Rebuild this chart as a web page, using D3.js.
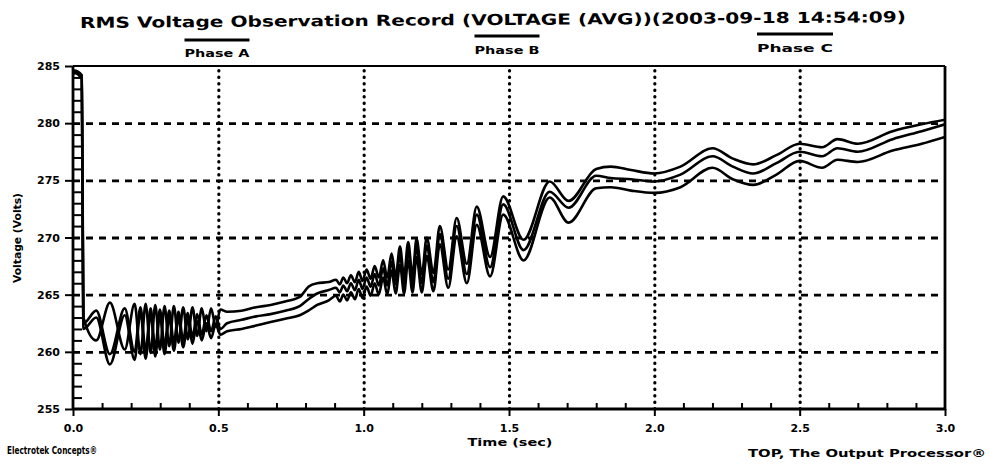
<!DOCTYPE html>
<html><head><meta charset="utf-8">
<script src="https://cdn.jsdelivr.net/npm/d3@7"></script>
<style>
html,body{margin:0;padding:0;background:#fff;}
svg{display:block;}
text{font-family:"DejaVu Sans",sans-serif;font-weight:bold;fill:#000;}
</style></head><body>
<svg id="chart" width="990" height="465"></svg>
<script>
// ---------------- DATA ----------------
const titleText = "RMS Voltage Observation Record (VOLTAGE (AVG))(2003-09-18 14:54:09)";
const seriesNames = ["Phase A", "Phase B", "Phase C"];
const xTickValues = [0, 0.5, 1, 1.5, 2, 2.5, 3];
const xTickLabels = ["0.0", "0.5", "1.0", "1.5", "2.0", "2.5", "3.0"];
const yTickValues = [255, 260, 265, 270, 275, 280, 285];
const xAxisTitle = "Time (sec)";
const yAxisTitle = "Voltage (Volts)";
const footerLeft = "Electrotek Concepts®";
const footerRight = "TOP, The Output Processor®";

// time (s)
const time = [
  0, 0.004, 0.030,
  0.036, 0.080, 0.127, 0.178, 0.212, 0.232, 0.250, 0.267, 0.283, 0.299, 0.315, 0.331, 0.347, 0.363, 0.379, 0.395, 0.411, 0.427, 0.443, 0.459, 0.475, 0.491, 0.507,
  0.530, 0.580, 0.630, 0.680, 0.730, 0.780, 0.810, 0.840,
  0.880, 0.905, 0.918, 0.930, 0.943, 0.956, 0.970, 0.983, 0.996, 1.010, 1.024, 1.038, 1.052, 1.067, 1.081, 1.096, 1.110, 1.125, 1.139, 1.153, 1.168, 1.182, 1.200, 1.217, 1.240, 1.262, 1.291, 1.320, 1.355, 1.389, 1.435, 1.480, 1.550, 1.640, 1.705,
  1.800, 1.850, 1.920, 2.000, 2.090, 2.200, 2.270, 2.340, 2.420, 2.500, 2.577, 2.630, 2.700, 2.820, 2.920, 3.000
];
// RMS voltage (V)
const phaseA = [
  284.4, 284.6, 284.2,
  263.0, 261.0, 264.3, 260.2, 264.2, 259.8, 264.2, 259.9, 264.1, 260.2, 264.0, 260.5, 264.0, 260.8, 263.9, 261.1, 263.9, 261.4, 263.8, 261.8, 263.8, 262.2, 263.7,
  263.5, 263.6, 263.9, 264.1, 264.4, 264.8, 265.7, 266.0,
  266.1, 266.3, 265.9, 266.5, 266.0, 266.7, 266.1, 267.0, 266.2, 267.2, 266.4, 267.5, 266.5, 268.0, 266.5, 268.6, 266.6, 269.2, 266.6, 269.6, 266.7, 269.9, 266.8, 270.0, 266.9, 271.0, 267.2, 271.7, 267.7, 272.7, 268.3, 273.6, 269.8, 274.9, 273.2,
  276.0, 276.2, 275.9, 275.6, 276.2, 277.8, 276.9, 276.4, 277.2, 278.2, 277.9, 278.6, 278.2, 279.3, 279.9, 280.3
];
const phaseB = [
  284.3, 284.5, 284.0,
  262.5, 263.6, 259.8, 263.8, 260.0, 263.9, 260.1, 263.8, 260.3, 263.7, 260.5, 263.6, 260.8, 263.5, 261.0, 263.4, 261.3, 263.3, 261.5, 263.2, 261.8, 263.1, 262.0,
  262.5, 262.8, 263.1, 263.3, 263.6, 264.0, 264.6, 265.1,
  265.4, 265.6, 265.2, 265.8, 265.3, 266.0, 265.4, 266.3, 265.5, 266.5, 265.7, 266.8, 265.8, 267.3, 265.8, 267.9, 265.9, 268.5, 265.9, 268.9, 266.0, 269.2, 266.0, 269.3, 266.1, 270.3, 266.4, 271.0, 266.8, 272.0, 267.4, 272.9, 268.9, 274.0, 272.6,
  275.4, 275.2, 275.1, 274.9, 275.5, 277.1, 276.2, 275.6, 276.5, 277.5, 277.1, 277.8, 277.5, 278.6, 279.3, 279.9
];
const phaseC = [
  284.2, 284.4, 283.9,
  262.0, 263.0, 258.9, 263.2, 259.3, 263.5, 259.4, 263.4, 259.6, 263.3, 259.8, 263.1, 260.1, 263.0, 260.4, 262.8, 260.7, 262.7, 261.0, 262.5, 261.2, 262.4, 261.5,
  261.8, 262.0, 262.3, 262.6, 262.9, 263.2, 263.6, 264.1,
  264.5, 264.9, 264.4, 265.0, 264.5, 265.2, 264.6, 265.5, 264.7, 265.7, 264.9, 266.0, 265.0, 266.5, 265.0, 267.1, 265.1, 267.6, 265.1, 268.0, 265.2, 268.3, 265.2, 268.4, 265.3, 269.4, 265.6, 270.1, 266.0, 271.1, 266.6, 272.0, 268.0, 273.5, 271.3,
  274.3, 274.4, 274.1, 273.9, 274.4, 276.1, 275.1, 274.6, 275.5, 276.7, 276.1, 276.8, 276.6, 277.6, 278.2, 278.8
];
const seriesValues = [phaseA, phaseB, phaseC];

// ---------------- LAYOUT ----------------
const plot = {left: 73, right: 945, top: 66, bottom: 409};
const legendLayout = [
  {cx: 217, lineY: 40, textY: 57, w: 65},
  {cx: 507, lineY: 36, textY: 54, w: 65},
  {cx: 795, lineY: 34, textY: 52, w: 76}
];

const svg = d3.select("#chart");
const x = d3.scaleLinear().domain([0, 3]).range([plot.left, plot.right]);
const y = d3.scaleLinear().domain([255, 285]).range([plot.bottom, plot.top]);

// Title
svg.append("text")
  .attr("x", 493).attr("y", 25)
  .attr("text-anchor", "middle")
  .attr("font-size", 15)
  .attr("textLength", 826).attr("lengthAdjust", "spacingAndGlyphs")
  .attr("transform", "rotate(-0.4,493,25)")
  .text(titleText);

// Legend
seriesNames.forEach((name, i) => {
  const L = legendLayout[i];
  svg.append("line")
    .attr("x1", L.cx - L.w / 2).attr("x2", L.cx + L.w / 2)
    .attr("y1", L.lineY).attr("y2", L.lineY)
    .attr("stroke", "#000").attr("stroke-width", 3);
  svg.append("text")
    .attr("x", L.cx).attr("y", L.textY)
    .attr("text-anchor", "middle").attr("font-size", 10)
    .attr("textLength", L.w).attr("lengthAdjust", "spacingAndGlyphs")
    .text(name);
});

// Horizontal dashed grid
const gH = svg.append("g").attr("transform", `translate(${plot.left},0)`)
  .call(d3.axisLeft(y).tickValues(yTickValues.slice(1, -1)).tickSize(-(plot.right - plot.left)).tickFormat(""));
gH.select(".domain").remove();
gH.selectAll(".tick line").attr("stroke", "#000").attr("stroke-width", 2.8).attr("stroke-dasharray", "7,6");

// Vertical dotted grid
const gV = svg.append("g").attr("transform", `translate(0,${plot.bottom})`)
  .call(d3.axisBottom(x).tickValues(xTickValues.slice(1, -1)).tickSize(-(plot.bottom - plot.top)).tickFormat(""));
gV.select(".domain").remove();
gV.selectAll(".tick line").attr("stroke", "#000").attr("stroke-width", 3.2)
  .attr("stroke-linecap", "round").attr("stroke-dasharray", "0.5,6");

// Minor ticks
const yMinor = d3.range(256, 285).filter(v => v % 5 !== 0);
const gYm = svg.append("g").attr("transform", `translate(${plot.left},0)`)
  .call(d3.axisRight(y).tickValues(yMinor).tickSize(9).tickFormat(""));
gYm.select(".domain").remove();
gYm.selectAll(".tick line").attr("stroke", "#000").attr("stroke-width", 2);

const xMinor = d3.range(1, 30).filter(i => i % 5 !== 0).map(i => i / 10);
const gXm = svg.append("g").attr("transform", `translate(0,${plot.bottom})`)
  .call(d3.axisTop(x).tickValues(xMinor).tickSize(6).tickFormat(""));
gXm.select(".domain").remove();
gXm.selectAll(".tick line").attr("stroke", "#000").attr("stroke-width", 2);

// Major axes with labels
const gY = svg.append("g").attr("transform", `translate(${plot.left},0)`)
  .call(d3.axisLeft(y).tickValues(yTickValues).tickSize(8).tickPadding(5).tickFormat(d3.format("d")));
gY.select(".domain").remove();
gY.selectAll(".tick line").attr("stroke", "#000").attr("stroke-width", 2);
gY.selectAll(".tick text").attr("font-size", 11).attr("font-family", "DejaVu Sans").attr("font-weight", "bold");

const gX = svg.append("g").attr("transform", `translate(0,${plot.bottom})`)
  .call(d3.axisBottom(x).tickValues(xTickValues).tickSize(7).tickPadding(8).tickFormat((d, i) => xTickLabels[i]));
gX.select(".domain").remove();
gX.selectAll(".tick line").attr("stroke", "#000").attr("stroke-width", 2);
gX.selectAll(".tick text").attr("font-size", 11).attr("font-family", "DejaVu Sans").attr("font-weight", "bold");

// Clip + series lines
svg.append("clipPath").attr("id", "clip").append("rect")
  .attr("x", plot.left).attr("y", plot.top)
  .attr("width", plot.right - plot.left).attr("height", plot.bottom - plot.top);

const line = d3.line()
  .x((d, i) => x(time[i]))
  .y(d => y(d))
  .curve(d3.curveMonotoneX);

svg.append("g").attr("clip-path", "url(#clip)")
  .selectAll("path").data(seriesValues).join("path")
  .attr("d", d => line(d))
  .attr("fill", "none").attr("stroke", "#000").attr("stroke-width", 2.6)
  .attr("stroke-linejoin", "round");

// Frame
const frame = svg.append("g").attr("stroke", "#000").attr("fill", "none");
frame.append("line").attr("x1", plot.left).attr("x2", plot.right).attr("y1", plot.top).attr("y2", plot.top).attr("stroke-width", 1.8);
frame.append("line").attr("x1", plot.left).attr("x2", plot.right + 1).attr("y1", plot.bottom).attr("y2", plot.bottom).attr("stroke-width", 2.8);
frame.append("line").attr("x1", plot.left).attr("x2", plot.left).attr("y1", plot.top).attr("y2", plot.bottom + 1).attr("stroke-width", 2.8);
frame.append("line").attr("x1", plot.right).attr("x2", plot.right).attr("y1", plot.top).attr("y2", plot.bottom + 1).attr("stroke-width", 2.8);

// Axis titles
svg.append("text").attr("x", 510).attr("y", 446).attr("text-anchor", "middle")
  .attr("font-size", 10).attr("textLength", 85).attr("lengthAdjust", "spacingAndGlyphs").text(xAxisTitle);
svg.append("text").attr("transform", "translate(21,238) rotate(-90)").attr("text-anchor", "middle")
  .attr("font-size", 10).attr("textLength", 90).attr("lengthAdjust", "spacingAndGlyphs").text(yAxisTitle);

// Footers
svg.append("text").attr("x", 7).attr("y", 454).attr("font-size", 10)
  .attr("textLength", 90).attr("lengthAdjust", "spacingAndGlyphs").text(footerLeft);
svg.append("text").attr("x", 748).attr("y", 457).attr("font-size", 11)
  .attr("textLength", 238).attr("lengthAdjust", "spacingAndGlyphs").text(footerRight);
</script>
</body></html>
